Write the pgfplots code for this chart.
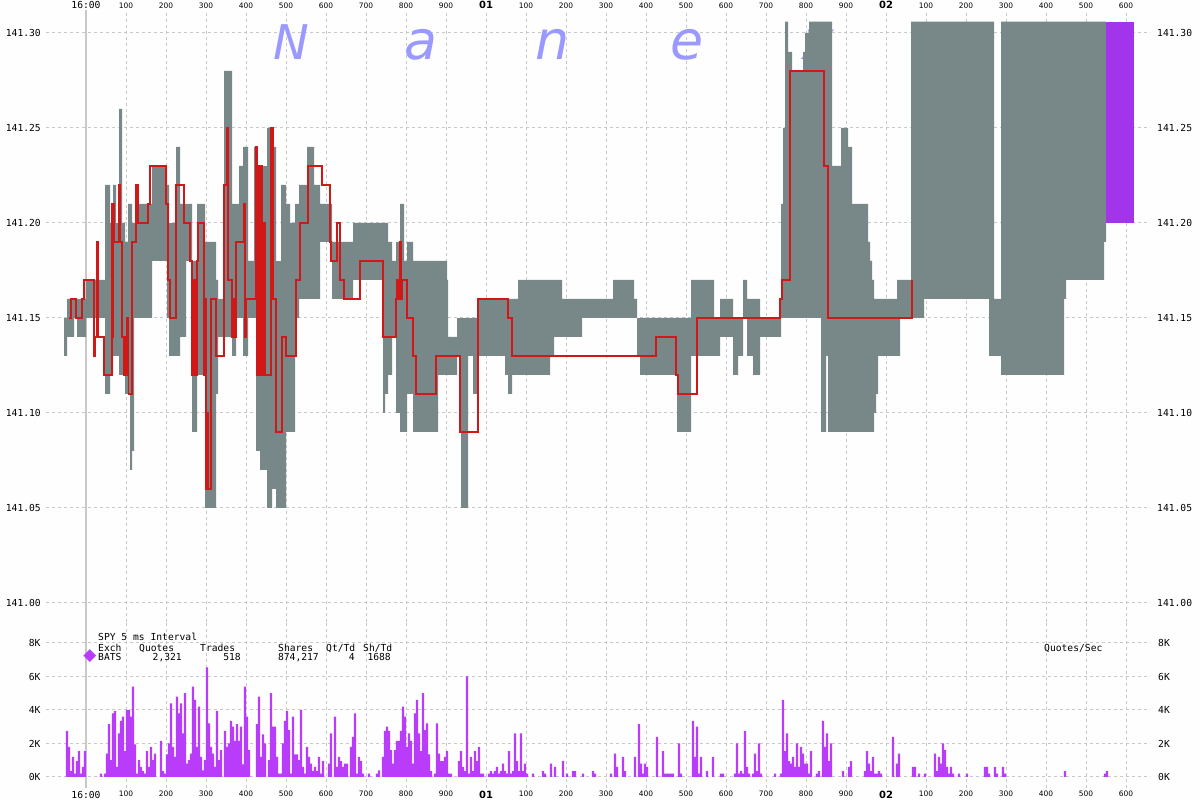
\documentclass[border=0pt]{standalone}
\usepackage{pgfplots}
\pgfplotsset{compat=1.18}
\usepackage{pgfplotstable}
\usepackage{fontspec}
\setmainfont{DejaVu Sans}
\newfontfamily\mono{DejaVu Sans Mono}
\newcommand\tsmono{\mono\fontsize{9.7}{10}\selectfont}
\newcommand\tsbold{\fontsize{10}{11}\selectfont\bfseries}
\definecolor{gr}{RGB}{120,136,136}
\definecolor{rd}{RGB}{208,24,24}
\definecolor{pu}{RGB}{162,52,236}
\definecolor{vp}{RGB}{184,60,250}
\definecolor{gl}{RGB}{200,200,200}
\definecolor{wm}{RGB}{153,153,255}
\definecolor{bgc}{RGB}{254,254,254}

% NBBO range (bid lo, ask hi) held from x (ms after 16:00:00.000)
\pgfplotstableread{
x lo hi
-55 141.13 141.15
-47.5 141.14 141.16
-30 141.15 141.16
-22.5 141.14 141.16
0 141.15 141.17
47.5 141.11 141.22
60 141.12 141.20
67.5 141.13 141.22
75 141.13 141.20
82.5 141.12 141.26
90 141.12 141.20
97.5 141.11 141.19
105 141.11 141.21
110 141.07 141.21
115 141.08 141.20
120 141.15 141.20
130 141.15 141.21
165 141.18 141.23
202.5 141.15 141.22
207.5 141.13 141.20
225 141.13 141.24
235 141.14 141.21
250 141.18 141.21
265 141.09 141.18
277.5 141.12 141.21
297.5 141.05 141.19
325 141.11 141.17
330 141.14 141.16
345 141.14 141.28
365 141.13 141.21
375 141.15 141.21
382.5 141.15 141.23
392.5 141.13 141.24
405 141.15 141.18
420 141.15 141.24
425 141.08 141.20
435 141.07 141.23
452.5 141.05 141.25
465 141.06 141.24
475 141.05 141.18
487.5 141.05 141.22
500 141.09 141.21
510 141.09 141.20
522.5 141.15 141.21
532.5 141.16 141.22
552.5 141.16 141.24
570 141.16 141.22
585 141.19 141.21
615 141.16 141.19
642.5 141.16 141.19
667.5 141.17 141.20
742.5 141.10 141.20
747.5 141.11 141.20
755 141.12 141.19
765 141.14 141.18
775 141.10 141.19
785 141.09 141.21
795 141.09 141.18
802.5 141.11 141.19
817.5 141.09 141.18
880 141.12 141.18
902.5 141.12 141.17
905 141.12 141.14
927.5 141.13 141.15
937.5 141.05 141.15
955 141.13 141.15
967.5 141.11 141.15
977.5 141.13 141.16
1047.5 141.12 141.16
1055 141.11 141.16
1065 141.12 141.16
1080 141.12 141.17
1160 141.13 141.17
1170 141.14 141.17
1190 141.14 141.16
1240 141.15 141.16
1317.5 141.15 141.17
1370 141.15 141.16
1377.5 141.13 141.15
1385 141.12 141.15
1477.5 141.09 141.15
1512.5 141.13 141.17
1570 141.13 141.15
1585 141.14 141.16
1617.5 141.12 141.15
1630 141.13 141.15
1642.5 141.15 141.17
1652.5 141.13 141.16
1667.5 141.12 141.16
1685 141.14 141.15
1737.5 141.15 141.21
1742.5 141.15 141.25
1747.5 141.15 141.306
1755 141.15 141.29
1765 141.15 141.28
1792.5 141.15 141.29
1797.5 141.15 141.30
1807.5 141.15 141.306
1837.5 141.09 141.306
1850 141.13 141.306
1855 141.09 141.306
1865 141.09 141.23
1887.5 141.09 141.25
1905 141.09 141.24
1915 141.09 141.21
1955 141.09 141.19
1960 141.09 141.18
1965 141.09 141.17
1970 141.10 141.16
1975 141.11 141.16
1980 141.13 141.16
2027.5 141.13 141.17
2035 141.15 141.17
2062.5 141.15 141.306
2095 141.16 141.306
2257.5 141.13 141.306
2270 141.13 141.16
2287.5 141.12 141.306
2445 141.16 141.306
2450 141.17 141.306
2545 141.19 141.306
2550 141.19 141.306
}\graytab

% BATS price (step line)
\pgfplotstableread{
x p
-42.5 141.15
-37.5 141.16
-25 141.15
-10 141.16
-5 141.17
20 141.13
22.5 141.14
27.5 141.19
30 141.14
45 141.12
65 141.21
66.5 141.14
68 141.21
70 141.19
82.5 141.22
85 141.19
90 141.14
95 141.12
97 141.14
98.5 141.12
102.5 141.15
106 141.11
115 141.19
125 141.22
130 141.20
155 141.21
160 141.23
200 141.21
205 141.17
210 141.15
225 141.22
245 141.20
260 141.18
265 141.12
267 141.17
269 141.12
271 141.17
273 141.12
277.5 141.18
280 141.20
295 141.12
297 141.16
300 141.06
302.5 141.10
305 141.06
312.5 141.16
325 141.13
345 141.22
352.5 141.25
355 141.17
365 141.14
367.5 141.16
370 141.14
375 141.19
395 141.21
397 141.14
400 141.16
425 141.24
427 141.12
430 141.23
435 141.12
438 141.23
441 141.12
444 141.20
447 141.12
462.5 141.25
467.5 141.16
475 141.09
490 141.14
500 141.13
525 141.17
535 141.20
555 141.23
590 141.22
610 141.19
612.5 141.18
627.5 141.20
635 141.17
645 141.16
685 141.18
742.5 141.14
775 141.16
777.5 141.17
780 141.16
782.5 141.17
785 141.19
787.5 141.16
790 141.17
802.5 141.15
817.5 141.13
825 141.11
875 141.13
935 141.09
980 141.16
1055 141.15
1065 141.13
1425 141.14
1475 141.12
1480 141.11
1527.5 141.15
1735 141.16
1740 141.17
1760 141.28
1845 141.23
1855 141.15
2065 141.17
}\redtab

% quotes per second (thousands), 5 ms bins, left edge in ms
\pgfplotstableread{
x v
-50 2.75
-45 1.8
-40 0.35
-35 1.2
-30 0.2
-25 0.95
-20 1.55
-15 0.2
-10 0.6
-5 1.55
35 0.2
45 0.2
50 1.4
55 3.15
60 1.0
65 3.8
70 3.95
75 0.6
80 2.6
85 3.35
90 3.6
95 1.55
100 4.0
105 4.0
110 3.6
115 5.4
120 1.95
125 0.2
130 1.0
135 0.6
140 0.35
145 0.2
150 1.55
155 0.6
160 1.8
165 1.0
170 1.4
185 2.15
190 0.35
195 0.2
200 1.35
205 2.0
210 4.4
215 1.8
220 1.2
225 4.8
230 3.8
235 4.4
240 2.6
245 5.0
250 0.8
255 1.0
260 1.4
265 5.4
270 4.6
275 1.8
280 4.2
285 1.2
290 0.4
295 1.0
300 6.55
305 3.2
310 1.8
315 1.4
320 0.6
325 3.95
330 1.0
335 1.6
345 2.75
350 1.8
355 2.0
360 3.35
365 3.0
370 2.15
375 3.15
380 2.15
385 3.0
390 0.75
395 5.4
400 3.6
405 1.6
425 3.15
430 4.8
435 1.2
440 2.55
445 2.0
455 1.0
460 5.0
465 3.0
470 3.0
475 1.2
480 0.2
485 0.2
490 2.0
495 3.35
500 3.95
505 2.8
510 0.2
515 3.6
520 1.35
525 1.35
530 1.0
535 4.0
540 0.6
545 0.2
550 1.8
555 1.2
560 0.8
565 0.35
570 0.6
575 0.35
580 1.2
585 0.2
590 0.95
605 0.8
610 2.6
620 3.6
625 0.6
630 1.2
635 0.95
640 0.6
645 0.8
650 0.8
660 1.8
665 2.4
670 3.8
675 0.2
680 1.2
685 0.95
690 0.2
705 0.2
725 0.2
730 0.4
740 1.2
745 2.75
750 3.0
755 2.75
760 1.6
765 0.8
770 1.6
775 2.15
780 2.15
785 2.75
790 4.2
795 3.6
800 1.8
805 2.6
810 2.15
815 0.8
820 3.8
825 4.6
830 2.6
835 1.55
840 5.0
845 2.8
850 3.2
855 1.35
860 0.35
870 0.2
875 3.2
880 1.4
885 0.95
890 0.95
895 1.2
900 1.55
905 0.2
910 0.2
930 0.95
935 1.55
940 0.6
945 0.35
950 6.0
955 0.2
960 1.2
965 0.35
970 1.55
975 0.95
980 1.8
985 0.2
990 0.2
1005 0.2
1010 0.35
1015 0.2
1020 0.35
1025 0.6
1030 0.2
1035 0.35
1040 0.8
1045 0.35
1050 0.2
1055 1.55
1060 0.2
1065 0.35
1070 2.6
1075 0.95
1080 0.35
1085 2.6
1090 0.35
1095 0.8
1100 0.2
1115 0.2
1140 0.35
1145 0.2
1160 0.8
1170 0.6
1190 0.95
1200 0.2
1215 0.35
1220 0.35
1240 0.2
1265 0.35
1270 0.2
1310 0.2
1320 1.4
1325 0.6
1340 1.2
1345 0.35
1370 1.2
1380 3.15
1385 0.8
1390 0.2
1395 0.8
1400 0.6
1425 2.4
1440 1.55
1445 0.2
1450 0.2
1455 0.2
1460 0.2
1465 0.2
1480 2.0
1485 0.2
1515 3.35
1520 1.2
1525 3.0
1530 0.2
1535 1.2
1550 0.35
1565 1.2
1585 0.2
1590 0.2
1620 0.2
1625 2.0
1630 0.2
1635 0.35
1640 0.2
1645 2.75
1650 0.6
1655 0.2
1665 0.2
1670 1.4
1675 0.35
1680 2.0
1685 0.2
1720 0.2
1735 0.2
1740 4.6
1745 1.55
1750 2.6
1755 0.95
1760 0.8
1765 1.2
1770 0.6
1775 2.0
1780 0.6
1785 1.8
1790 1.4
1795 0.8
1800 0.8
1805 0.2
1810 1.55
1825 0.2
1830 0.35
1840 3.35
1845 1.8
1850 2.6
1855 0.95
1860 2.0
1890 0.35
1905 0.6
1910 0.95
1945 0.35
1950 1.55
1955 0.8
1960 0.35
1965 1.2
1970 0.2
1975 0.2
1980 0.35
1985 0.2
2015 2.4
2025 0.8
2030 1.4
2065 0.6
2070 0.6
2080 0.2
2095 0.2
2120 1.4
2125 0.35
2130 1.2
2135 0.8
2140 2.0
2145 1.6
2150 0.6
2155 0.2
2160 0.6
2165 0.2
2180 0.2
2200 0.2
2245 0.6
2250 0.6
2255 0.2
2270 0.6
2275 0.2
2290 0.6
2295 0.2
2445 0.35
2545 0.2
2550 0.35
}\voltab

\pgfplotsset{
  base/.style={
    scale only axis, anchor=south west,
    xmin=-100, xmax=2660,
    axis line style={draw=none},
    major tick length=0pt, tick style={draw=none},
    xtick={0,100,...,2600},
    xticklabels={{\tsmono 16:00},100,200,300,400,500,600,700,800,900,{\tsbold 01},100,200,300,400,500,600,700,800,900,{\tsbold 02},100,200,300,400,500,600},
    xticklabel style={font=\fontsize{7.5}{8}\selectfont, inner sep=0pt},
    yticklabel style={font=\tsmono, inner sep=0pt},
    major grid style={gl, dash pattern=on 3bp off 3bp, line width=1bp},
  },
  % price axis: vertical position in cents above 141.00
  pricey/.style={
    ymin=-1, ymax=31.2105,
    ytick={0,5,10,15,20,25,30},
    yticklabels={141.00,141.05,141.10,141.15,141.20,141.25,141.30},
  },
  voly/.style={
    ymin=-0.657, ymax=9.254,
    ytick={0,2,4,6,8}, yticklabels={0K,2K,4K,6K,8K},
  },
}

\begin{document}
\begin{tikzpicture}
\fill[bgc] (0bp,0bp) rectangle (1200bp,800bp);

% ---------------- quotes/sec panel ----------------
\begin{axis}[base, voly, name=vol,
  at={(46bp,12bp)}, width=1104bp, height=166bp,
  xticklabel pos=lower, yticklabel pos=left,
  xticklabel shift=2.7bp, yticklabel shift=5.3bp,
  xmajorgrids, ymajorgrids,
  extra x ticks={0}, extra x tick labels={},
  extra x tick style={major grid style={gl, solid, line width=1.4bp}},
]
\addplot[ybar, bar width=2.2bp, bar shift=1bp, fill=vp, draw=none, forget plot] table[x=x, y=v] {\voltab};
\end{axis}

\begin{axis}[base, voly,
  at={(46bp,12bp)}, width=1104bp, height=166bp,
  xtick=\empty, yticklabel pos=right,
  yticklabel shift=8bp,
]
\addplot[draw=none, forget plot] coordinates {(0,1) (100,2)};
\end{axis}

% ---------------- price panel ----------------
\begin{axis}[base, pricey, name=price,
  at={(46bp,178bp)}, width=1104bp, height=612bp,
  xticklabel pos=upper, yticklabel pos=left,
  xticklabel shift=1bp, yticklabel shift=5bp,
  xmajorgrids, ymajorgrids,
  extra x ticks={0}, extra x tick labels={},
  extra x tick style={major grid style={gl, solid, line width=1.4bp}},
]
\node[font=\fontsize{48}{48}\selectfont\itshape, text=wm, anchor=base] at (rel axis cs:0.2219,0.9183) {N};
\node[font=\fontsize{54}{54}\selectfont\itshape, text=wm, anchor=base] at (rel axis cs:0.3397,0.9183) {a};
\node[font=\fontsize{54}{54}\selectfont\itshape, text=wm, anchor=base] at (rel axis cs:0.4592,0.9183) {n};
\node[font=\fontsize{54}{54}\selectfont\itshape, text=wm, anchor=base] at (rel axis cs:0.5806,0.9183) {e};
\node[font=\fontsize{54}{54}\selectfont\itshape, text=wm, anchor=base] at (rel axis cs:0.6993,0.9183) {x};
\addplot[draw=none, const plot, stack plots=y, forget plot] table[x=x, y expr={100*(\thisrow{lo}-141)}] {\graytab};
\addplot[fill=gr, draw=none, const plot, stack plots=y, forget plot] table[x=x, y expr={100*(\thisrow{hi}-\thisrow{lo})}] {\graytab} \closedcycle;
\addplot[pu, line width=28bp, forget plot] coordinates {(2585,20) (2585,30.6)};
\addplot[rd, line width=1.7bp, const plot, forget plot] table[x=x, y expr={100*(\thisrow{p}-141)}] {\redtab};
\end{axis}

\begin{axis}[base, pricey,
  at={(46bp,178bp)}, width=1104bp, height=612bp,
  xtick=\empty, yticklabel pos=right,
  yticklabel shift=7bp,
]
\addplot[draw=none, forget plot] coordinates {(0,10) (100,20)};
\end{axis}

% ---------------- legend text ----------------
\begin{scope}[every node/.style={font=\tsmono, inner sep=0pt}]
\node[anchor=base west] at (98bp,159.3bp) {SPY 5 ms Interval};
\node[anchor=base west] at (98bp,148.3bp) {Exch};
\node[anchor=base west] at (139bp,148.3bp) {Quotes};
\node[anchor=base west] at (200bp,148.3bp) {Trades};
\node[anchor=base west] at (278bp,148.3bp) {Shares};
\node[anchor=base west] at (326bp,148.3bp) {Qt/Td};
\node[anchor=base west] at (363bp,148.3bp) {Sh/Td};
\node[anchor=base west] at (98bp,139.3bp) {BATS};
\node[anchor=base east] at (182bp,139.3bp) {2,321};
\node[anchor=base east] at (241bp,139.3bp) {518};
\node[anchor=base east] at (319bp,139.3bp) {874,217};
\node[anchor=base east] at (355bp,139.3bp) {4};
\node[anchor=base east] at (391bp,139.3bp) {1688};
\node[anchor=base west] at (1044bp,148.3bp) {Quotes/Sec};
\node[font=\fontsize{17}{17}\selectfont, text=vp] at (90bp,143.5bp) {◆};
\end{scope}
\pgfresetboundingbox
\path[use as bounding box] (0bp,0bp) rectangle (1200bp,800bp);
\end{tikzpicture}
\end{document}
